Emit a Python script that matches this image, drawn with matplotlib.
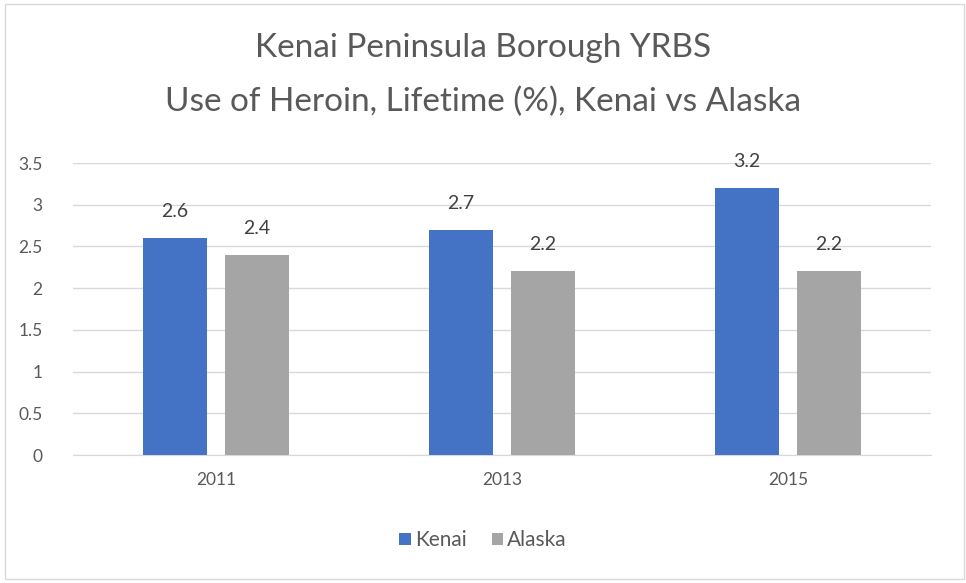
import matplotlib
matplotlib.use("Agg")
import matplotlib.pyplot as plt
import numpy as np
from matplotlib.patches import Rectangle

years = ["2011", "2013", "2015"]
kenai = [2.6, 2.7, 3.2]
alaska = [2.4, 2.2, 2.2]
yticks = [0, 0.5, 1, 1.5, 2, 2.5, 3, 3.5]
ytick_labels = ["0", "0.5", "1", "1.5", "2", "2.5", "3", "3.5"]

plt.rcParams['font.family'] = ['Lato', 'DejaVu Sans']
txt = '#595959'

fig = plt.figure(figsize=(9.66, 5.83), dpi=100)
fig.patches.append(Rectangle((5/966, 4/583), 959/966, 575/583, transform=fig.transFigure,
                             fill=False, edgecolor='#D9D9D9', linewidth=1.0))
ax = fig.add_axes([73/966, 128/583, 858/966, 292/583])

x = np.arange(len(years))
w = 0.224
off = 0.143
b1 = ax.bar(x - off, kenai, w, color='#4472C4', label='Kenai', zorder=3)
b2 = ax.bar(x + off, alaska, w, color='#A5A5A5', label='Alaska', zorder=3)
for bars, vals in ((b1, kenai), (b2, alaska)):
    for r, v in zip(bars, vals):
        ax.annotate(f"{v}", (r.get_x() + r.get_width() / 2, v), xytext=(0, 13),
                    textcoords='offset points', ha='center', va='bottom',
                    fontsize=14, color='#404040')

ax.set_xlim(-0.5, 2.5)
ax.set_ylim(0, 3.5)
ax.set_yticks(yticks)
ax.set_yticklabels(ytick_labels)
ax.set_xticks(x)
ax.set_xticklabels(years)
ax.grid(axis='y', color='#D9D9D9', linewidth=1.0, zorder=0)
for s in ['top', 'right', 'left']:
    ax.spines[s].set_visible(False)
ax.spines['bottom'].set_color('#D9D9D9')
ax.tick_params(axis='both', length=0, labelsize=12.5, colors=txt)
ax.tick_params(axis='y', pad=22)
ax.tick_params(axis='x', pad=12)

fig.text(0.5, 0.917, "Kenai Peninsula Borough YRBS", ha='center', va='center',
         fontsize=24, color=txt)
fig.text(0.5, 0.826, "Use of Heroin, Lifetime (%), Kenai vs Alaska", ha='center', va='center',
         fontsize=24, color=txt)

fig.legend(handles=[b1, b2], labels=['Kenai', 'Alaska'], loc='center',
           bbox_to_anchor=(0.5, 0.073), ncol=2, frameon=False, fontsize=15,
           handlelength=0.55, handleheight=0.55, handletextpad=0.2, columnspacing=1.2,
           labelcolor=txt)

fig.savefig("out.png", dpi=100)
